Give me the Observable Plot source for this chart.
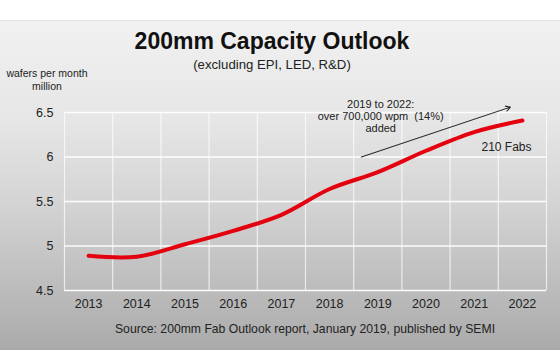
<!DOCTYPE html>
<html>
<head>
<meta charset="utf-8">
<script src="https://cdn.jsdelivr.net/npm/d3@7"></script>
<script src="https://cdn.jsdelivr.net/npm/@observablehq/plot@0.6"></script>
<style>
  html, body { margin: 0; padding: 0; background: #fff; }
  #wrap { position: relative; width: 560px; height: 350px; overflow: hidden; font-family: "Liberation Sans", Arial, sans-serif; color: #1a1a1a; }
  #panel { position: absolute; left: 0; top: 20px; width: 560px; height: 330px;
    background: linear-gradient(to bottom, #f1f1f1 0%, #e6e6e6 30%, #d4d4d4 55%, #bdbdbd 80%, #aaaaaa 100%);
    border-top: 1px solid #e2e2e2; }
  .t { position: absolute; white-space: nowrap; text-align: center; }
  #title { left: 0; width: 544px; top: 28px; font-size: 23px; font-weight: bold; line-height: 26px; color: #111; }
  #subtitle { left: 0; width: 544px; top: 57px; font-size: 13.2px; line-height: 16px; color: #222; }
  #ylabel { left: 0; width: 94px; top: 67px; font-size: 10.5px; line-height: 13px; color: #222; }
  #caption { left: 0; width: 610px; top: 322px; font-size: 12.2px; line-height: 15px; color: #222; }
  #chart { position: absolute; left: 0; top: 0; }
</style>
</head>
<body>
<div id="wrap">
  <div id="panel"></div>
  <div class="t" id="title">200mm Capacity Outlook</div>
  <div class="t" id="subtitle">(excluding EPI, LED, R&amp;D)</div>
  <div class="t" id="ylabel">wafers per month<br>million</div>
  <div class="t" id="caption">Source: 200mm Fab Outlook report, January 2019, published by SEMI</div>
  <div id="chart"></div>
</div>
<script>
// Data
const years = [2013, 2014, 2015, 2016, 2017, 2018, 2019, 2020, 2021, 2022];
const capacity = [4.89, 4.88, 5.02, 5.17, 5.35, 5.64, 5.83, 6.07, 6.28, 6.41];
const yTicks = [4.5, 5, 5.5, 6, 6.5];
const arrowFrom = [2018.66, 6.0];
const arrowTo = [2021.75, 6.56];
const noteLines = ["2019 to 2022:", "over 700,000 wpm  (14%)", "added"];
const notePos = [2019.06, 6.455];
const fabsLabel = "210 Fabs";
const fabsPos = [2021.67, 6.11];

const rows = years.map((y, i) => ({year: y, value: capacity[i]}));
const bounds = years.map(y => y - 0.5).concat([years[years.length - 1] + 0.5]);

const chart = Plot.plot({
  width: 560,
  height: 350,
  marginTop: 112,
  marginBottom: 60,
  marginLeft: 64,
  marginRight: 14,
  style: {background: "transparent", fontFamily: "'Liberation Sans', Arial, sans-serif", overflow: "visible"},
  x: {type: "linear", domain: [bounds[0], bounds[bounds.length - 1]]},
  y: {domain: [4.5, 6.5]},
  marks: [
    Plot.ruleX(bounds, {x: d => d, stroke: "#ffffff", strokeOpacity: 0.7, strokeWidth: 1.2}),
    Plot.ruleY(yTicks, {y: d => d, stroke: "#ffffff", strokeOpacity: 0.95, strokeWidth: 1.6}),
    Plot.axisX(years, {tickFormat: d => String(d), tickSize: 0, tickPadding: 9, fontSize: 12.5, fill: "#222", label: null}),
    Plot.axisY(yTicks, {tickFormat: d => String(d), tickSize: 0, tickPadding: 11, fontSize: 12.5, fill: "#222", label: null}),
    Plot.line(rows, {x: "year", y: "value", curve: "catmull-rom", stroke: "#e4000f", strokeWidth: 4, strokeLinecap: "round"}),
    Plot.arrow([{x1: arrowFrom[0], y1: arrowFrom[1], x2: arrowTo[0], y2: arrowTo[1]}], {x1: "x1", y1: "y1", x2: "x2", y2: "y2", stroke: "#2a2a2a", strokeWidth: 1.1, headLength: 7}),
    Plot.text([noteLines.join("\n")], {x: () => notePos[0], y: () => notePos[1], text: d => d, fontSize: 11, fill: "#222", lineHeight: 1.1}),
    Plot.text([fabsLabel], {x: () => fabsPos[0], y: () => fabsPos[1], text: d => d, fontSize: 12, fill: "#222"})
  ]
});
document.getElementById("chart").appendChild(chart);
</script>
</body>
</html>
